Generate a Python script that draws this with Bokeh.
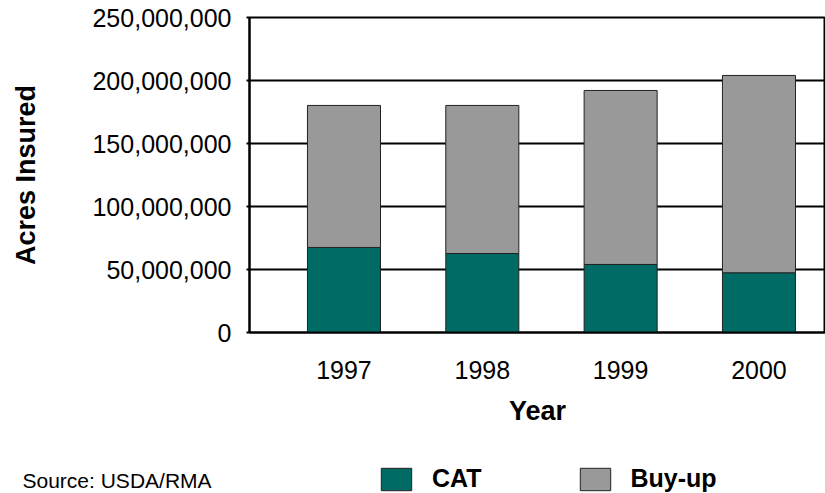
from bokeh.plotting import figure
from bokeh.layouts import column
from bokeh.models import (Range1d, FixedTicker, NumeralTickFormatter, Label,
                          Legend, LegendItem)
from bokeh.embed import file_html
from bokeh.resources import INLINE

years = [1997, 1998, 1999, 2000]
cat = [67.5e6, 62.7e6, 54.0e6, 47.4e6]
buyup = [112.7e6, 117.5e6, 138.1e6, 156.6e6]
y_ticks = [0, 50e6, 100e6, 150e6, 200e6, 250e6]
series = ["CAT", "Buy-up"]
colors = ["#006A64", "#999999"]
source_note = "Source: USDA/RMA"

FONT = "Liberation Sans"

# ---- main chart ----
p = figure(width=825, height=450, output_backend="svg", toolbar_location=None,
           x_range=Range1d(1996.317, 2000.481), y_range=Range1d(0, 250e6),
           min_border_left=249, min_border_right=0, min_border_top=17,
           min_border_bottom=118)

data = {"year": years, "CAT": cat, "Buy-up": buyup}
p.vbar_stack(series, x="year", width=0.528, source=data, color=colors,
             line_color="#222222", line_width=1)

p.outline_line_color = "black"
p.outline_line_width = 2

p.xgrid.grid_line_color = None
p.ygrid.grid_line_color = "black"
p.ygrid.grid_line_width = 2
p.ygrid.ticker = FixedTicker(ticks=y_ticks)

p.yaxis.ticker = FixedTicker(ticks=y_ticks)
p.yaxis.formatter = NumeralTickFormatter(format="0,0")
p.yaxis.minor_tick_line_color = None
p.yaxis.major_tick_out = 3
p.yaxis.major_tick_in = 0
p.yaxis.major_tick_line_width = 2
p.yaxis.axis_line_width = 2
p.yaxis.major_label_standoff = 15
p.yaxis.axis_label = "Acres Insured"
p.yaxis.axis_label_standoff = 48

p.xaxis.ticker = FixedTicker(ticks=years)
p.xaxis.minor_tick_line_color = None
p.xaxis.major_tick_line_color = None
p.xaxis.axis_line_width = 2
p.xaxis.major_label_standoff = 22
p.xaxis.axis_label = "Year"
p.xaxis.axis_label_standoff = 14

for ax in (p.xaxis[0], p.yaxis[0]):
    ax.axis_line_color = "black"
    ax.major_label_text_font = FONT
    ax.major_label_text_font_size = "25px"
    ax.major_label_text_color = "black"
    ax.axis_label_text_font = FONT
    ax.axis_label_text_font_size = "27px"
    ax.axis_label_text_font_style = "bold"
    ax.axis_label_text_color = "black"

# ---- footer strip: legend + source note ----
p2 = figure(width=825, height=43, output_backend="svg", toolbar_location=None,
            x_axis_type=None, y_axis_type=None,
            x_range=Range1d(0, 1), y_range=Range1d(0, 1),
            min_border_left=0, min_border_right=0, min_border_top=0,
            min_border_bottom=0)
p2.outline_line_color = None
p2.grid.grid_line_color = None

for fig in (p, p2):
    if "frame_align" in fig.properties():
        fig.frame_align = False

swatches = []
for c in colors:
    # placeholder bar kept below the visible range, only styles the legend swatch
    r = p2.vbar(x=[0.5], top=[-1], bottom=[-2], width=0.1, color=c,
                line_color="#222222", line_width=1)
    swatches.append(r)

lg = Legend(items=[LegendItem(label=s, renderers=[r])
                   for s, r in zip(series, swatches)])
lg.orientation = "horizontal"
lg.location = (377, 0)
lg.border_line_color = None
lg.background_fill_alpha = 0
lg.padding = 0
lg.margin = 0
lg.spacing = 94
lg.glyph_width = 38
lg.glyph_height = 28
lg.label_standoff = 17
lg.label_text_font = FONT
lg.label_text_font_size = "25px"
lg.label_text_font_style = "bold"
lg.label_text_color = "black"
p2.add_layout(lg, "center")

src = Label(x=22, y=2, x_units="screen", y_units="screen",
            text=source_note, text_font=FONT, text_font_size="21px",
            text_baseline="bottom", text_color="black")
p2.add_layout(src)

layout = column(p, p2, spacing=0)
open("out.html", "w").write(file_html(layout, INLINE))
